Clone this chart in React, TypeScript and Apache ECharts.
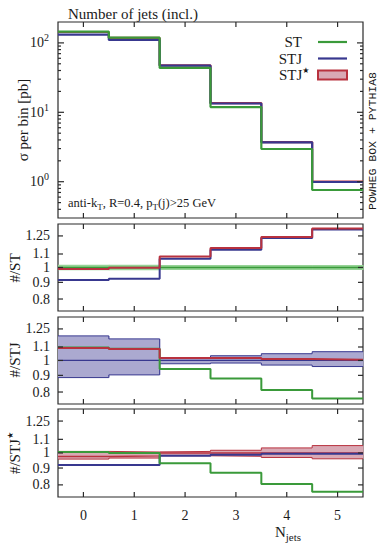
import React, { useEffect, useRef } from 'react';
import * as echarts from 'echarts';

// ---------------- data ----------------
const bins = [0, 1, 2, 3, 4, 5];
const xTickValues = [0, 1, 2, 3, 4, 5];
const sigmaTickValues = [1, 10, 100];
const sigmaMinorTicks = [0.4, 0.5, 0.6, 0.7, 0.8, 0.9, 2, 3, 4, 5, 6, 7, 8, 9, 20, 30, 40, 50, 60, 70, 80, 90];
const ratioTickValues = [0.8, 0.9, 1, 1.1, 1.25];

// top panel: sigma per bin [pb]
const sigmaST = [145, 119, 43.6, 11.9, 2.96, 0.76];
const sigmaSTJ = [132, 110, 46.9, 13.4, 3.69, 0.99];
const sigmaSTJstar = [143.5, 118, 47.5, 13.6, 3.72, 1.0];

// panel #/ST
const stBandLow = [0.98, 0.98, 0.983, 0.983, 0.983, 0.983];
const stBandHigh = [1.02, 1.02, 1.017, 1.017, 1.017, 1.017];
const stOverST = [1, 1, 1, 1, 1, 1];
const stjOverST = [0.915, 0.923, 1.063, 1.133, 1.232, 1.307];
const stjStarOverST = [0.989, 0.998, 1.08, 1.147, 1.24, 1.317];

// panel #/STJ
const stjBandLow = [0.886, 0.903, 0.977, 0.982, 0.968, 0.958];
const stjBandHigh = [1.19, 1.165, 1.02, 1.034, 1.049, 1.064];
const stjOverSTJ = [1, 1, 1, 1, 1, 1];
const stOverSTJ = [1.097, 1.087, 0.942, 0.88, 0.811, 0.764];
const stjStarOverSTJ = [1.093, 1.085, 1.017, 1.017, 1.01, 1.005];

// panel #/STJ*
const starBandLow = [0.958, 0.965, 0.981, 0.977, 0.969, 0.96];
const starBandHigh = [1.011, 1.007, 1.011, 1.019, 1.036, 1.053];
const starCentral = [0.976, 0.98, 1, 1, 1, 1];
const stOverStar = [1.007, 1.0, 0.931, 0.871, 0.805, 0.762];
const stjOverStar = [0.92, 0.92, 0.981, 0.988, 0.995, 0.995];

// ---------------- style ----------------
const SERIF = '"Liberation Serif", "DejaVu Serif", serif';
const MONO = '"Liberation Mono", "DejaVu Sans Mono", monospace';
const GREEN = '#3a9a3a';
const BLUE = '#38388f';
const RED = '#b8323f';
const GREEN_FILL = '#96d396';
const BLUE_FILL = '#aba9d0';
const RED_FILL = '#d9a9b5';
const INK = '#1a1a1a';
const FRAME = '#2a2a2a';

const grids = [
  { left: 58, right: 18, top: 22, height: 196 },
  { left: 58, right: 18, top: 224, height: 87 },
  { left: 58, right: 18, top: 317, height: 87 },
  { left: 58, right: 18, top: 409, height: 88 },
];

function steps(vals: number[]) {
  const pts: number[][] = vals.map((v, i) => [bins[i] - 0.5, v]);
  pts.push([bins[bins.length - 1] + 0.5, vals[vals.length - 1]]);
  return pts;
}

function lineSeries(g: number, vals: number[], color: string, width: number) {
  return {
    type: 'line',
    xAxisIndex: g,
    yAxisIndex: g,
    step: 'end',
    symbol: 'none',
    data: steps(vals),
    lineStyle: { color, width },
    itemStyle: { color },
    silent: true,
  };
}

function bandSeries(g: number, low: number[], high: number[], fill: string) {
  return {
    type: 'custom',
    xAxisIndex: g,
    yAxisIndex: g,
    data: bins.map((b, i) => [b, low[i], high[i]]),
    encode: { x: 0, y: [1, 2] },
    silent: true,
    renderItem: (params: any, api: any) => {
      const x = api.value(0);
      const p1 = api.coord([x - 0.5, api.value(2)]);
      const p2 = api.coord([x + 0.5, api.value(1)]);
      return {
        type: 'rect',
        shape: { x: p1[0], y: p1[1], width: p2[0] - p1[0] + 0.6, height: p2[1] - p1[1] },
        style: { fill },
      };
    },
  };
}

// frame ticks (inside, mirrored on both sides), placed through the axes' scales
function tickSeries(g: number, dim: 'x' | 'y', values: number[], len: number) {
  return {
    type: 'custom',
    xAxisIndex: g,
    yAxisIndex: g,
    silent: true,
    clip: false,
    z: 10,
    data: values.map((v) => (dim === 'x' ? [v, 1] : [0, v])),
    encode: { x: 0, y: 1 },
    renderItem: (params: any, api: any) => {
      const cs = params.coordSys;
      const style = { stroke: FRAME, lineWidth: 1.2 };
      if (dim === 'x') {
        const px = api.coord([api.value(0), 1])[0];
        const yb = cs.y + cs.height;
        return {
          type: 'group',
          children: [
            { type: 'line', shape: { x1: px, y1: yb, x2: px, y2: yb - len }, style },
            { type: 'line', shape: { x1: px, y1: cs.y, x2: px, y2: cs.y + len }, style },
          ],
        };
      }
      const py = api.coord([0, api.value(1)])[1];
      const xr = cs.x + cs.width;
      return {
        type: 'group',
        children: [
          { type: 'line', shape: { x1: cs.x, y1: py, x2: cs.x + len, y2: py }, style },
          { type: 'line', shape: { x1: xr, y1: py, x2: xr - len, y2: py }, style },
        ],
      };
    },
  };
}

function fmtRatio(v: number) {
  return String(Number(v.toFixed(2)));
}

const noLine = { show: false, onZero: false };

export default function App() {
  const ref = useRef<HTMLDivElement>(null);

  useEffect(() => {
    if (!ref.current) return;
    const chart = echarts.init(ref.current, undefined, { renderer: 'svg' });

    const xAxes = grids.map((_, g) => ({
      type: 'value',
      gridIndex: g,
      min: -0.5,
      max: 5.5,
      axisLine: noLine,
      splitLine: { show: false },
      axisTick: { show: false },
      axisLabel: {
        show: g === 3,
        customValues: xTickValues,
        margin: 11,
        fontFamily: SERIF,
        fontSize: 14,
        color: INK,
      },
    }));

    const yAxes: any[] = [
      {
        type: 'log',
        logBase: 10,
        gridIndex: 0,
        min: 0.3,
        max: 200,
        axisLine: noLine,
        splitLine: { show: false },
        axisTick: { show: false },
        minorTick: { show: false },
        axisLabel: {
          customValues: sigmaTickValues,
          margin: 9,
          formatter: (v: number) => '{b|10}{s|' + Math.round(Math.log10(v)) + '}',
          rich: {
            b: { fontFamily: SERIF, fontSize: 14, lineHeight: 20, color: INK },
            s: { fontFamily: SERIF, fontSize: 10, lineHeight: 9, verticalAlign: 'top', color: INK },
          },
        },
      },
    ];
    for (let g = 1; g <= 3; g++) {
      yAxes.push({
        type: 'log',
        logBase: 10,
        gridIndex: g,
        min: 0.735,
        max: 1.36,
        axisLine: noLine,
        splitLine: { show: false },
        axisTick: { show: false },
        axisLabel: {
          customValues: ratioTickValues,
          margin: 8,
          formatter: fmtRatio,
          fontFamily: SERIF,
          fontSize: 14,
          color: INK,
        },
      });
    }

    const series: any[] = [
      lineSeries(0, sigmaSTJstar, RED, 2.2),
      lineSeries(0, sigmaSTJ, BLUE, 2.2),
      lineSeries(0, sigmaST, GREEN, 2.2),
      bandSeries(1, stBandLow, stBandHigh, GREEN_FILL),
      lineSeries(1, stOverST, GREEN, 1.4),
      lineSeries(1, stjOverST, BLUE, 2),
      lineSeries(1, stjStarOverST, RED, 2),
      bandSeries(2, stjBandLow, stjBandHigh, BLUE_FILL),
      lineSeries(2, stjBandLow, BLUE, 1),
      lineSeries(2, stjBandHigh, BLUE, 1),
      lineSeries(2, stjOverSTJ, BLUE, 1.2),
      lineSeries(2, stOverSTJ, GREEN, 2),
      lineSeries(2, stjStarOverSTJ, RED, 2),
      bandSeries(3, starBandLow, starBandHigh, RED_FILL),
      lineSeries(3, starBandLow, RED, 1),
      lineSeries(3, starBandHigh, RED, 1),
      lineSeries(3, starCentral, RED, 1.4),
      lineSeries(3, stjOverStar, BLUE, 2),
      lineSeries(3, stOverStar, GREEN, 2),
      // frame ticks
      tickSeries(0, 'x', xTickValues, 5),
      tickSeries(0, 'y', sigmaTickValues, 6),
      tickSeries(0, 'y', sigmaMinorTicks, 3),
      tickSeries(1, 'x', xTickValues, 5),
      tickSeries(1, 'y', ratioTickValues, 5),
      tickSeries(2, 'x', xTickValues, 5),
      tickSeries(2, 'y', ratioTickValues, 5),
      tickSeries(3, 'x', xTickValues, 5),
      tickSeries(3, 'y', ratioTickValues, 5),
    ];

    const starRich = { fontFamily: '"DejaVu Sans", sans-serif', fontSize: 8, lineHeight: 8, verticalAlign: 'top', fill: INK };

    const graphic: any[] = [
      { type: 'text', x: 68, y: 14, style: { text: 'Number of jets (incl.)', font: `15px ${SERIF}`, fill: INK, align: 'left', verticalAlign: 'middle' } },
      { type: 'text', x: 23, y: 120, rotation: Math.PI / 2, style: { text: 'σ per bin [pb]', font: `15px ${SERIF}`, fill: INK, align: 'center', verticalAlign: 'middle' } },
      { type: 'text', x: 15, y: 268, rotation: Math.PI / 2, style: { text: '#/ST', font: `15px ${SERIF}`, fill: INK, align: 'center', verticalAlign: 'middle' } },
      { type: 'text', x: 15, y: 360, rotation: Math.PI / 2, style: { text: '#/STJ', font: `15px ${SERIF}`, fill: INK, align: 'center', verticalAlign: 'middle' } },
      {
        type: 'text', x: 15, y: 453, rotation: Math.PI / 2,
        style: {
          text: '{b|#/STJ}{s|★}', align: 'center', verticalAlign: 'middle',
          rich: { b: { fontFamily: SERIF, fontSize: 15, lineHeight: 18, fill: INK }, s: starRich },
        },
      },
      {
        type: 'text', x: 288, y: 532,
        style: {
          text: '{b|N}{s|jets}', align: 'center', verticalAlign: 'middle',
          rich: {
            b: { fontFamily: SERIF, fontSize: 15, lineHeight: 20, fill: INK },
            s: { fontFamily: SERIF, fontSize: 11, lineHeight: 10, verticalAlign: 'bottom', fill: INK },
          },
        },
      },
      {
        type: 'text', x: 68, y: 203,
        style: {
          text: '{b|anti-k}{s|T}{b|, R=0.4, p}{s|T}{b|(j)>25 GeV}', align: 'left', verticalAlign: 'middle',
          rich: {
            b: { fontFamily: SERIF, fontSize: 12.5, lineHeight: 16, fill: INK },
            s: { fontFamily: SERIF, fontSize: 9, lineHeight: 9, verticalAlign: 'bottom', fill: INK },
          },
        },
      },
      { type: 'text', x: 372, y: 141, rotation: Math.PI / 2, style: { text: 'POWHEG BOX + PYTHIA8', font: `11.5px ${MONO}`, fill: INK, align: 'center', verticalAlign: 'middle' } },
      { type: 'text', x: 302, y: 42, style: { text: 'ST', font: `15px ${SERIF}`, fill: INK, align: 'right', verticalAlign: 'middle' } },
      { type: 'line', shape: { x1: 318, y1: 42, x2: 347, y2: 42 }, style: { stroke: GREEN, lineWidth: 2.2 } },
      { type: 'text', x: 302, y: 58.5, style: { text: 'STJ', font: `15px ${SERIF}`, fill: INK, align: 'right', verticalAlign: 'middle' } },
      { type: 'line', shape: { x1: 318, y1: 58.5, x2: 347, y2: 58.5 }, style: { stroke: BLUE, lineWidth: 2.2 } },
      {
        type: 'text', x: 279, y: 75,
        style: {
          text: '{b|STJ}{s|★}', align: 'left', verticalAlign: 'middle',
          rich: { b: { fontFamily: SERIF, fontSize: 15, lineHeight: 18, fill: INK }, s: starRich },
        },
      },
      { type: 'rect', shape: { x: 318, y: 70.5, width: 29, height: 9 }, style: { fill: RED_FILL, stroke: RED, lineWidth: 2 } },
    ];

    chart.setOption({
      animation: false,
      backgroundColor: '#ffffff',
      grid: grids.map((g) => ({ ...g, show: true, borderColor: FRAME, borderWidth: 1.2, backgroundColor: 'transparent' })),
      xAxis: xAxes,
      yAxis: yAxes,
      series,
      graphic,
    });

    return () => chart.dispose();
  }, []);

  return (
    <div
      ref={ref}
      style={{ position: 'fixed', left: 0, top: 0, width: 381, height: 545, background: '#fff' }}
    />
  );
}
